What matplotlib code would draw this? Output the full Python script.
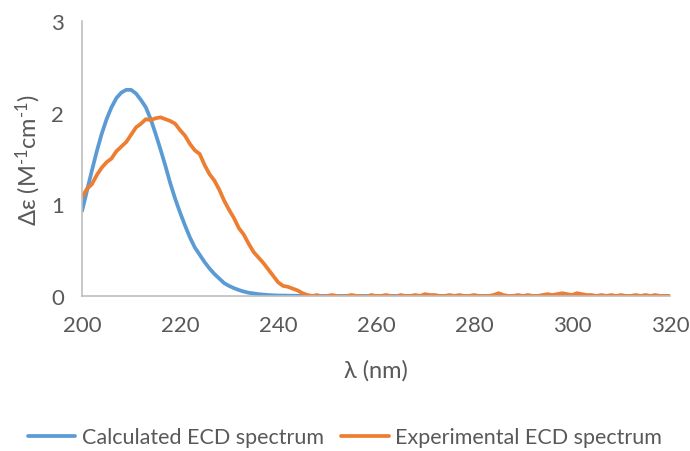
import matplotlib
matplotlib.use("Agg")
import matplotlib.pyplot as plt
import numpy as np

# Calculated spectrum (nm, delta epsilon)
calc_wl = [200, 201, 202, 203, 204, 205, 206, 207, 208, 209, 210, 211, 212,
           213, 214, 215, 216, 217, 218, 219, 220, 221, 222, 223, 224, 225,
           226, 227, 228, 229, 230, 231, 232, 233, 234, 236, 238, 240, 244,
           250, 260, 280, 300, 320]
calc_de = [0.93, 1.15, 1.37, 1.58, 1.77, 1.93, 2.06, 2.16, 2.22, 2.25, 2.25,
           2.21, 2.14, 2.06, 1.93, 1.77, 1.60, 1.42, 1.23, 1.06, 0.91, 0.77,
           0.64, 0.53, 0.45, 0.37, 0.30, 0.24, 0.19, 0.14, 0.11, 0.085, 0.065,
           0.048, 0.035, 0.02, 0.01, 0.005, 0.002, 0.0, 0.0, 0.0, 0.0, 0.0]

# Experimental spectrum, 1 nm steps from 200 to 320
exp_wl = list(range(200, 321))
exp_de = [1.08, 1.17, 1.22, 1.32, 1.40, 1.46, 1.50, 1.58, 1.63, 1.68,
          1.76, 1.84, 1.88, 1.93, 1.92, 1.94, 1.95, 1.93, 1.91, 1.88,
          1.81, 1.75, 1.66, 1.59, 1.55, 1.43, 1.33, 1.26, 1.16, 1.04,
          0.94, 0.85, 0.74, 0.67, 0.57, 0.48, 0.42, 0.36, 0.29, 0.22,
          0.15, 0.11, 0.10, 0.08, 0.06, 0.03, 0.01, 0.00, 0.01, -0.01,
          0.00, 0.01, 0.00, -0.01, 0.00, 0.01, 0.00, 0.00, -0.01, 0.01,
          0.00, 0.00, 0.01, 0.00, -0.01, 0.01, 0.00, 0.00, 0.01, 0.00,
          0.02, 0.01, 0.01, 0.00, 0.00, 0.01, 0.00, 0.01, 0.00, 0.00,
          0.01, 0.00, 0.00, 0.00, 0.01, 0.03, 0.01, 0.00, 0.00, 0.01,
          0.00, 0.01, 0.00, 0.00, 0.01, 0.02, 0.01, 0.02, 0.03, 0.02,
          0.01, 0.03, 0.02, 0.01, 0.01, 0.00, 0.01, 0.00, 0.01, 0.00,
          0.01, 0.00, 0.00, 0.01, 0.00, 0.01, 0.00, 0.01, 0.00, 0.00,
          0.00]

x_ticks = [200, 220, 240, 260, 280, 300, 320]
y_ticks = [0, 1, 2, 3]

plt.rcParams['font.family'] = ['Lato', 'DejaVu Sans']
plt.rcParams['mathtext.default'] = 'regular'
text_color = '#595959'

fig = plt.figure(figsize=(6.9, 4.52), dpi=100)
ax = fig.add_axes([0.119, 0.343, 0.852, 0.608])

ax.plot(calc_wl, calc_de, color='#5B9BD5', linewidth=2.7,
        label='Calculated ECD spectrum', solid_capstyle='round')
ax.plot(exp_wl, exp_de, color='#ED7D31', linewidth=2.7,
        label='Experimental ECD spectrum', solid_capstyle='round')

ax.set_xlim(200, 320)
ax.set_ylim(0, 3)
ax.set_xticks(x_ticks)
ax.set_yticks(y_ticks)
ax.tick_params(axis='x', length=0, labelsize=16, colors=text_color, pad=14)
ax.tick_params(axis='y', length=0, labelsize=16, colors=text_color, pad=13)

for side in ['top', 'right']:
    ax.spines[side].set_visible(False)
for side in ['left', 'bottom']:
    ax.spines[side].set_color('#BFBFBF')
    ax.spines[side].set_linewidth(1.2)

ax.set_xlabel('λ (nm)', fontsize=17, color=text_color, labelpad=17)
ax.set_ylabel('Δε (M$^{\u2010 1}$cm$^{\u2010 1}$)', fontsize=17,
              color=text_color, labelpad=6)

fig.legend(loc='lower center', ncol=2, frameon=False, fontsize=15.5,
           handlelength=2.2, columnspacing=0.8, handletextpad=0.3,
           bbox_to_anchor=(0.5, -0.035), labelcolor=text_color)

fig.savefig('out.png', dpi=100)
